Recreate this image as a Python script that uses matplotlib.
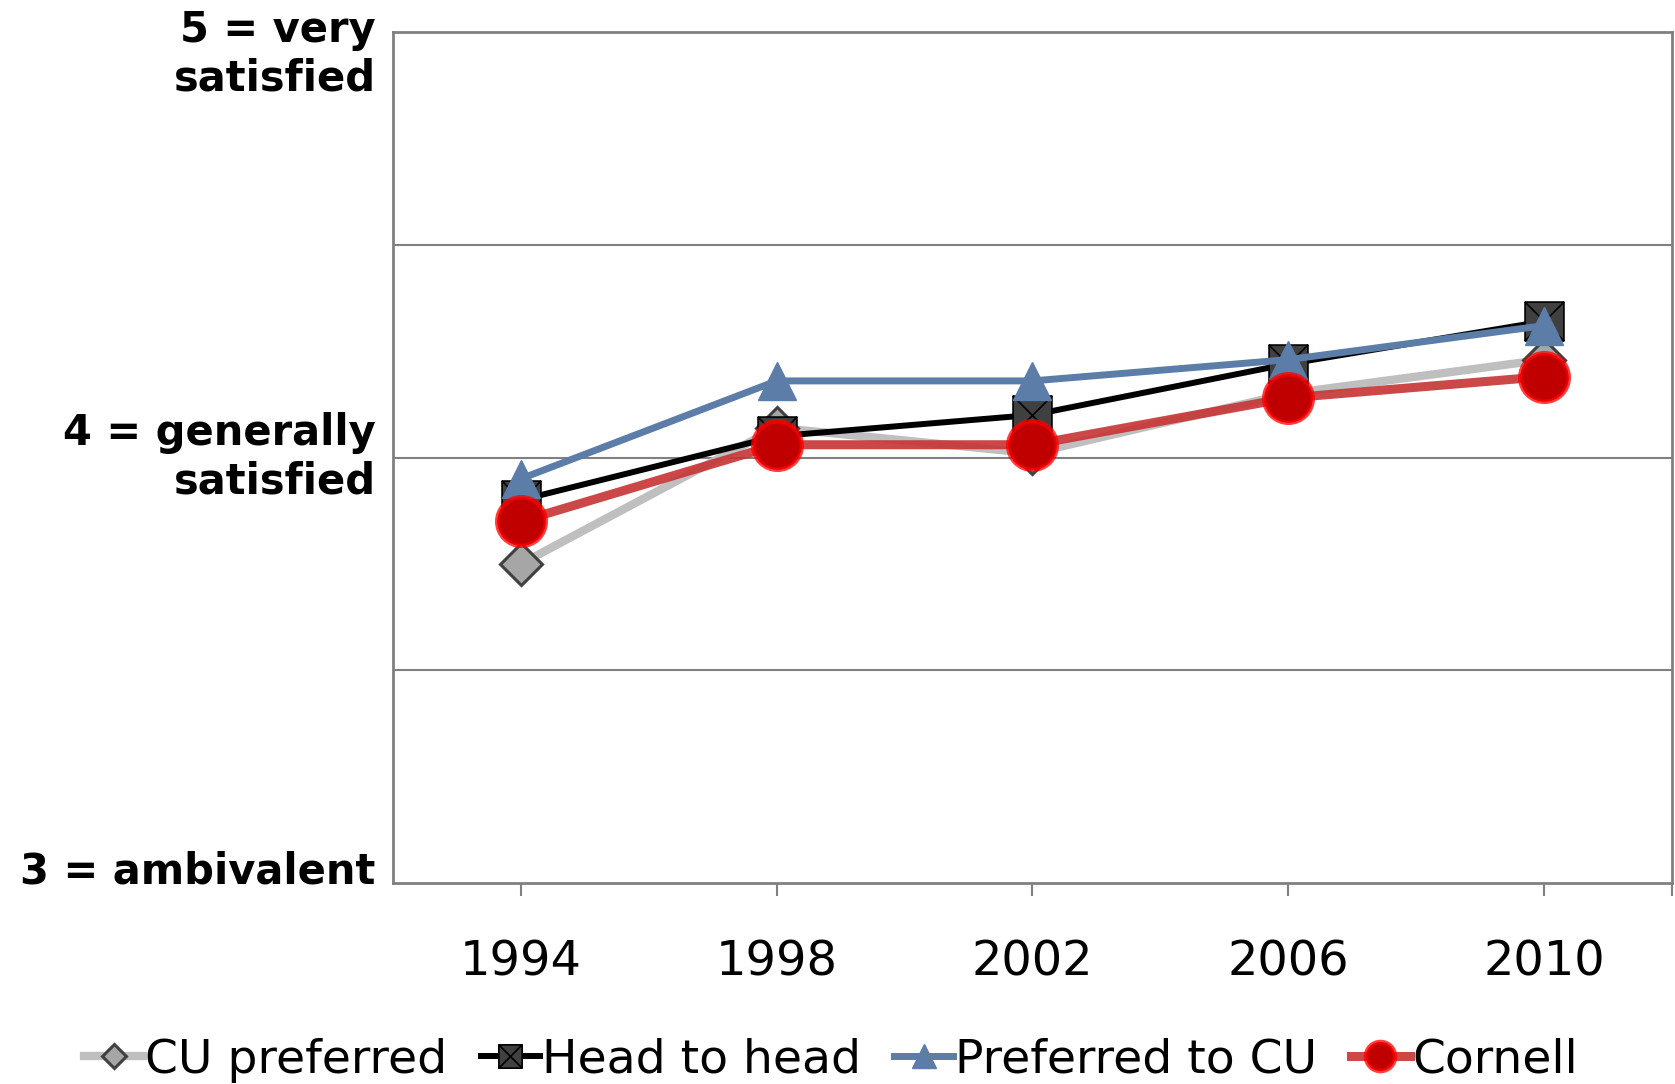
import matplotlib
matplotlib.use('Agg')
from matplotlib import pyplot as plt
from matplotlib.path import Path
import matplotlib.transforms as mtransforms

years = ['1994', '1998', '2002', '2006', '2010']
cu_preferred = [3.75, 4.07, 4.01, 4.15, 4.23]
head_to_head = [3.90, 4.05, 4.10, 4.22, 4.32]
preferred_to_cu = [3.95, 4.18, 4.18, 4.23, 4.31]
cornell = [3.85, 4.03, 4.03, 4.14, 4.19]

y_levels = [5, 4, 3]
y_labels = ['5 = very\nsatisfied', '4 = generally\nsatisfied', '3 = ambivalent']
# where each label sits (Excel nudges the top/bottom ones inside the picture)
y_label_pos = [4.947, 4.0, 3.027]

# square with an X through it, like the Excel marker
sq_x = Path([(-1, -1), (1, -1), (1, 1), (-1, 1), (-1, -1),
             (-1, -1), (1, 1), (-1, 1), (1, -1)],
            [Path.MOVETO, Path.LINETO, Path.LINETO, Path.LINETO, Path.CLOSEPOLY,
             Path.MOVETO, Path.LINETO, Path.MOVETO, Path.LINETO])

fig = plt.figure(figsize=(16.75, 10.84), dpi=100)
ax = fig.add_axes([0.2346, 0.1854, 0.7636, 0.7851])

x = range(len(years))
ax.plot(x, cu_preferred, color='#BFBFBF', lw=6, marker='D', ms=21,
        mfc='#A6A6A6', mec='#404040', mew=2.2, label='CU preferred', zorder=3)
ax.plot(x, head_to_head, color='black', lw=4.3, marker=sq_x, ms=28,
        mfc='#404040', mec='black', mew=1.2, label='Head to head', zorder=4)
ax.plot(x, preferred_to_cu, color='#5B7DA8', lw=5, marker='^', ms=28,
        mfc='#5B7DA8', mec='#5B7DA8', label='Preferred to CU', zorder=5)
ax.plot(x, cornell, color=(0.78, 0.2, 0.2, 0.9), lw=6.5, marker='o', ms=35,
        mfc='#C00000', mec=(1, 0, 0, 0.75), mew=3.2, label='Cornell', zorder=6)

ax.set_xlim(-0.5, 4.5)
ax.set_ylim(3, 5)
ax.set_xticks(list(x))
ax.set_xticklabels(years, fontsize=34.5)
ax.set_xticks([4.5], minor=True)
ax.tick_params(axis='x', which='both', direction='out', length=9, width=1.5,
               color='#808080', pad=31)
ax.set_yticks([3.5, 4, 4.5])
ax.tick_params(axis='y', length=0, labelleft=False)
ax.grid(axis='y', color='#808080', lw=1.5)
for s in ax.spines.values():
    s.set_color('#808080')
    s.set_linewidth(2)

trans = mtransforms.blended_transform_factory(ax.transAxes, ax.transData)
for lab, pos in zip(y_labels, y_label_pos):
    ax.text(-0.0135, pos, lab, transform=trans, ha='right', va='center',
            multialignment='right', fontsize=30, fontweight='bold',
            linespacing=1.2)

fig.legend(loc='center', bbox_to_anchor=(0.496, 0.022), ncol=4, frameon=False,
           fontsize=34, handlelength=1.25, handletextpad=0.05,
           columnspacing=0.7, markerscale=0.6, borderaxespad=0)

fig.savefig('out.png', dpi=100)
